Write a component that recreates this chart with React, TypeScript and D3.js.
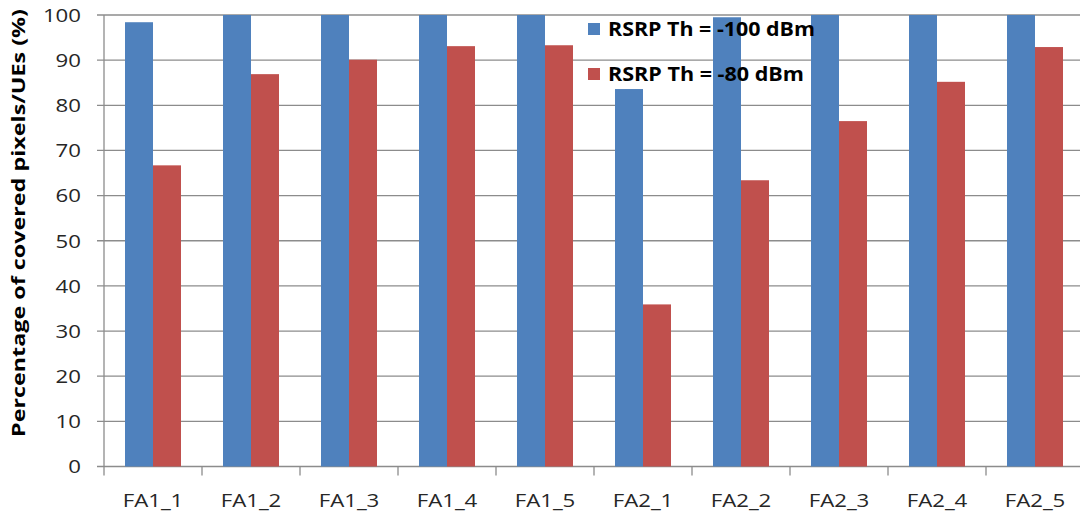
import React from "react";
import * as d3 from "d3";

const categories = ["FA1_1", "FA1_2", "FA1_3", "FA1_4", "FA1_5", "FA2_1", "FA2_2", "FA2_3", "FA2_4", "FA2_5"];
const seriesNames = ["RSRP Th = -100 dBm", "RSRP Th = -80 dBm"];
const seriesTh100 = [98.4, 100, 100, 100, 100, 83.6, 99.5, 100, 100, 100];
const seriesTh80 = [66.7, 86.9, 90.1, 93.1, 93.3, 35.9, 63.4, 76.5, 85.2, 92.9];
const yTicks = [0, 10, 20, 30, 40, 50, 60, 70, 80, 90, 100];
const colors = ["#4F81BD", "#C0504D"];

const W = 1080;
const H = 514;
const left = 104;
const right = 1084;
const top = 15;
const bottom = 466.5;
const FONT = "'Open Sans', sans-serif";
const SX = 1.17;

export default function App() {
  const x = d3.scaleBand<string>().domain(categories).range([left, right]).paddingInner(0).paddingOuter(0);
  const inner = d3.scaleBand<string>().domain(["a", "b"]).range([0, x.bandwidth()]).paddingInner(0).paddingOuter(0.75);
  const y = d3.scaleLinear().domain([0, 100]).range([bottom, top]);
  const series = [seriesTh100, seriesTh80];
  const keys = ["a", "b"];
  const step = x.step();
  const boundaries = d3.range(categories.length + 1).map((i) => left + i * step);

  return (
    <svg width={W} height={H} style={{ position: "absolute", left: 0, top: 0, background: "#fff" }}>
      <rect x={0} y={0} width={W} height={H} fill="#fff" />
      {yTicks.map((t) => (
        <g key={t}>
          <line x1={97} x2={W} y1={y(t)} y2={y(t)} stroke="#8c8c8c" strokeWidth={1.3} />
          <text
            transform={`translate(81,${y(t)}) scale(${SX},1)`}
            dy="0.36em"
            textAnchor="end"
            fontFamily={FONT}
            fontSize={19}
            fill="#262626"
          >
            {t}
          </text>
        </g>
      ))}
      <line x1={left} x2={left} y1={top} y2={bottom} stroke="#8c8c8c" strokeWidth={1.3} />
      {boundaries.map((b, i) => (
        <line key={i} x1={b} x2={b} y1={bottom} y2={bottom + 9} stroke="#8c8c8c" strokeWidth={1.3} />
      ))}
      {categories.map((c, i) => (
        <g key={c}>
          {series.map((s, k) => (
            <rect
              key={k}
              x={(x(c) as number) + (inner(keys[k]) as number)}
              width={inner.bandwidth()}
              y={y(s[i])}
              height={y(0) - y(s[i])}
              fill={colors[k]}
            />
          ))}
          <text
            transform={`translate(${(x(c) as number) + x.bandwidth() / 2},507) scale(${SX},1)`}
            textAnchor="middle"
            fontFamily={FONT}
            fontSize={19}
            fill="#262626"
          >
            {c}
          </text>
        </g>
      ))}
      <text
        transform={`translate(25,223) rotate(-90)`}
        textAnchor="middle"
        fontFamily={FONT}
        fontSize={18}
        fontWeight="bold"
        fill="#000"
        textLength={428}
        lengthAdjust="spacingAndGlyphs"
      >
        Percentage of covered pixels/UEs (%)
      </text>
      {seriesNames.map((n, k) => (
        <g key={n}>
          <rect x={588} y={23 + k * 45} width={12} height={12} fill={colors[k]} />
          <text
            x={608}
            y={36 + k * 45}
            fontFamily={FONT}
            fontSize={19}
            fontWeight="bold"
            fill="#000"
            textLength={k === 0 ? 207 : 196}
            lengthAdjust="spacingAndGlyphs"
          >
            {n}
          </text>
        </g>
      ))}
    </svg>
  );
}
